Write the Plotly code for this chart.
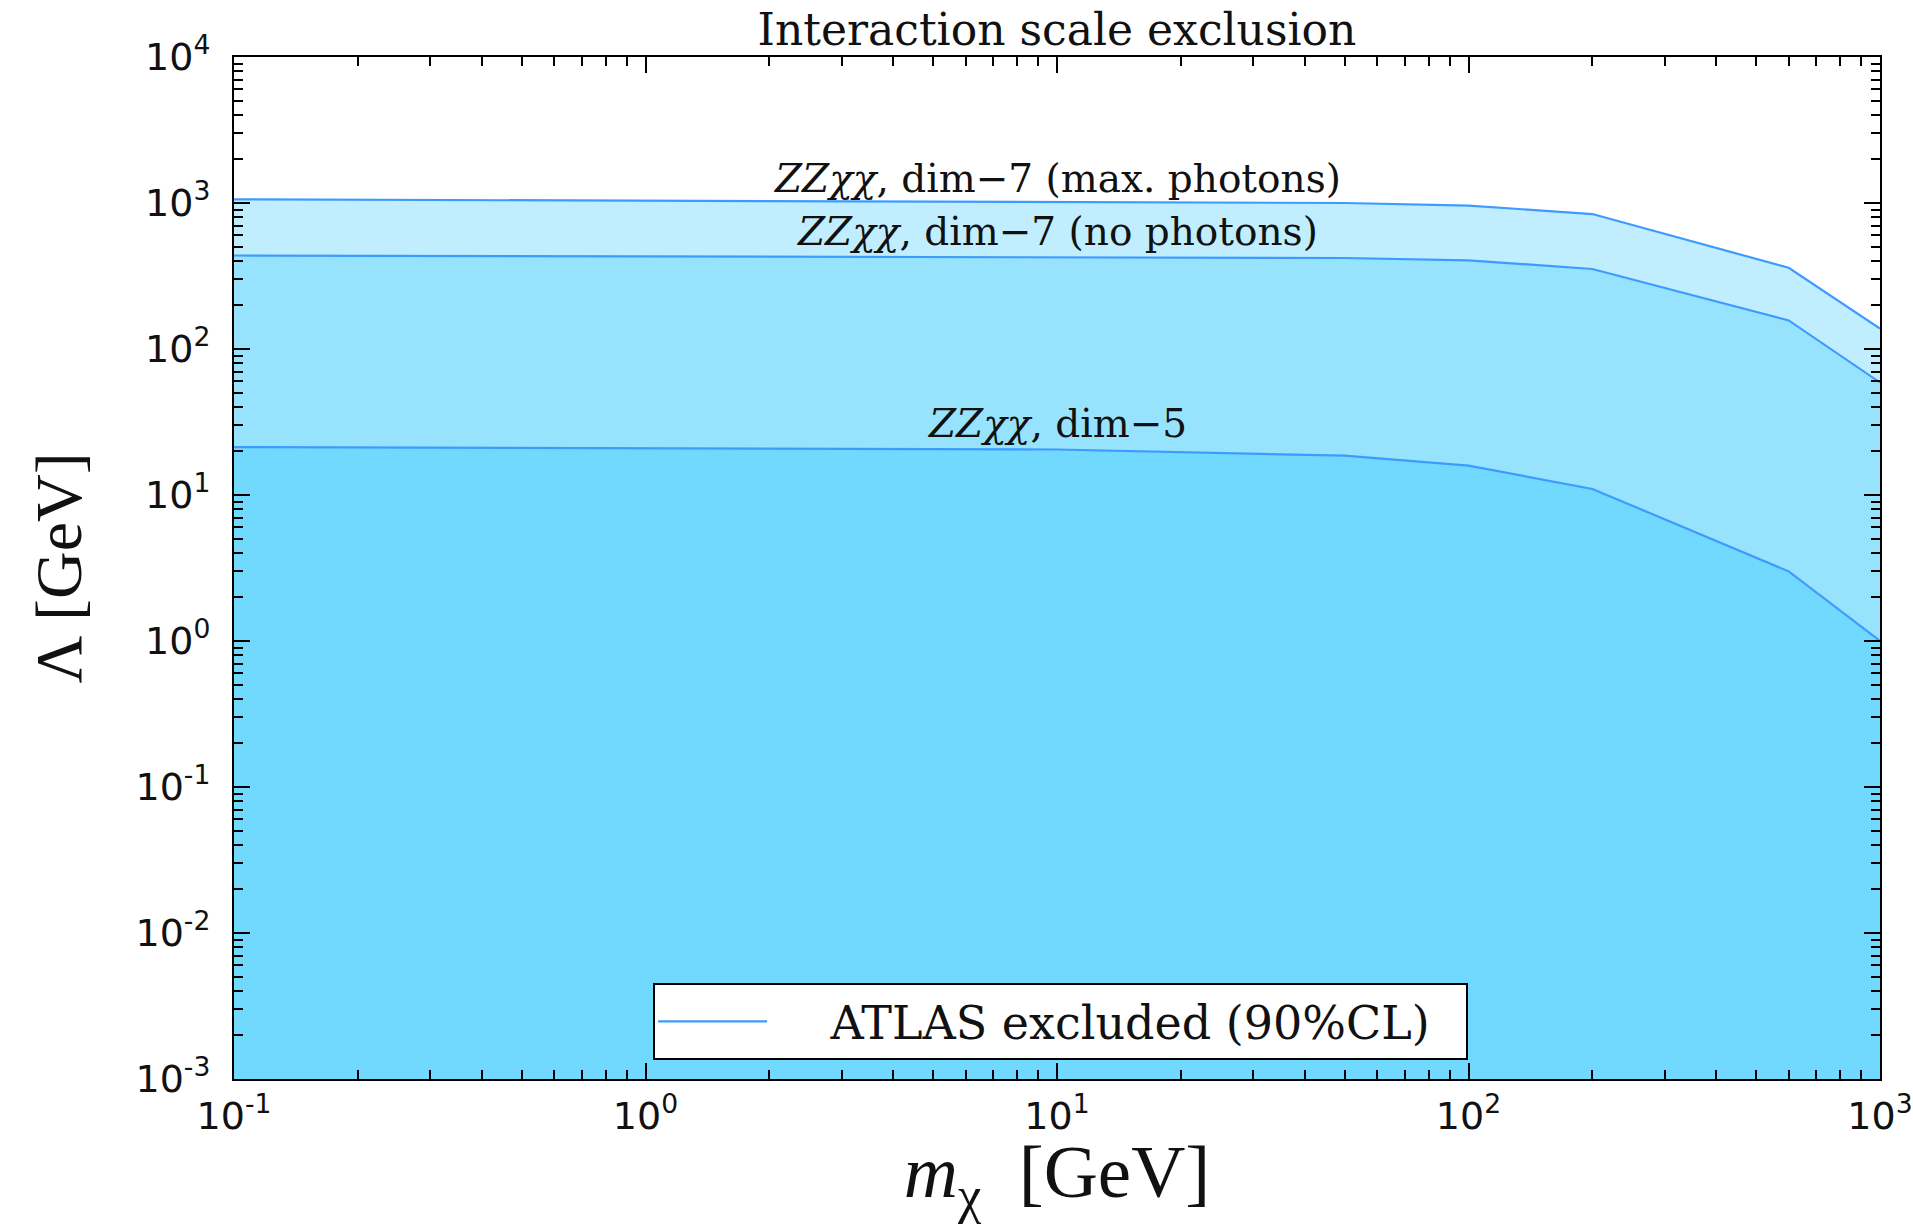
import numpy as np
import plotly.graph_objects as go

# ---------------- data ----------------
m_chi = [0.1, 1, 10, 50, 100, 200, 600, 1000]
lam_dim7_maxph = [1060, 1040, 1020, 1000, 960, 840, 360, 138]
lam_dim7_noph = [437, 430, 428, 420, 405, 353, 157, 59]
lam_dim5 = [21.3, 21.0, 20.5, 18.6, 15.9, 11.0, 3.0, 1.0]

labels = ["<i>ZZχχ</i>, dim−7 (max. photons)",
          "<i>ZZχχ</i>, dim−7 (no photons)",
          "<i>ZZχχ</i>, dim−5"]
label_x = [10, 10, 10]
label_y = [1480, 640, 31]
legend_name = "\u00a0" * 4 + "ATLAS excluded (90%CL)"

y_decades = [-3, -2, -1, 0, 1, 2, 3, 4]
x_decades = [-1, 0, 1, 2, 3]

fill_colors = ["#c1eefe", "#97e3fd", "#72d9fe"]
line_color = "#3d9bff"
serif = "DejaVu Serif, Liberation Serif, serif"
serif2 = "Liberation Serif, DejaVu Serif, serif"
sans = "DejaVu Sans, Liberation Sans, sans-serif"

fig = go.Figure()
series = [lam_dim7_maxph, lam_dim7_noph, lam_dim5]
for ys, fc in zip(series, fill_colors):
    fig.add_trace(go.Scatter(x=m_chi, y=ys, mode="lines", fill="tozeroy",
                             fillcolor=fc, line=dict(width=0, color=fc),
                             showlegend=False, hoverinfo="skip"))
for i, ys in enumerate(series):
    fig.add_trace(go.Scatter(x=m_chi, y=ys, mode="lines",
                             line=dict(color=line_color, width=2.2),
                             name=legend_name,
                             legendgroup="atlas", showlegend=(i == 0)))

for t, lx, ly in zip(labels, label_x, label_y):
    fig.add_annotation(x=np.log10(lx), y=np.log10(ly), text=t, showarrow=False,
                       font=dict(family=serif, size=39, color="#111"))

def minor_vals(decs):
    out = []
    for d in decs[:-1]:
        for k in range(2, 10):
            out.append(k * 10.0 ** d)
    return out

axis_common = dict(type="log", showline=True, linecolor="black", linewidth=2,
                   mirror="ticks", ticks="inside", ticklen=16, tickwidth=2,
                   tickcolor="black", showgrid=False, zeroline=False,
                   automargin=False,
                   tickfont=dict(family=sans, size=38, color="#111"))

fig.update_xaxes(**axis_common,
                 range=[-1, 3],
                 ticklabelstandoff=2,
                 tickvals=[10.0 ** d for d in x_decades],
                 ticktext=[f"10<sup>{d}</sup>" for d in x_decades],
                 minor=dict(tickvals=minor_vals(x_decades), ticks="inside",
                            ticklen=9, tickwidth=1.5, tickcolor="black"),
                 title=dict(text="<i>m</i><sub>χ</sub>  [GeV]",
                            font=dict(family=serif2, size=75, color="#111"),
                            standoff=11))
fig.update_yaxes(**axis_common,
                 range=[-3, 4],
                 ticklabelstandoff=14,
                 tickvals=[10.0 ** d for d in y_decades],
                 ticktext=[f"10<sup>{d}</sup>" for d in y_decades],
                 minor=dict(tickvals=minor_vals(y_decades), ticks="inside",
                            ticklen=9, tickwidth=1.5, tickcolor="black"),
                 title=dict(text="Λ [GeV]",
                            font=dict(family=serif2, size=66, color="#111"),
                            standoff=32))

fig.update_layout(
    width=1913, height=1224,
    margin=dict(l=234, r=33, t=57, b=145),
    paper_bgcolor="white", plot_bgcolor="white",
    title=dict(text="Interaction scale exclusion", x=0.5, xanchor="center",
               xref="paper", y=1 - 30 / 1224, yanchor="middle",
               font=dict(family=serif, size=44, color="#111")),
    legend=dict(x=0.2546, y=0.094, xanchor="left", yanchor="top",
                bgcolor="white", bordercolor="black", borderwidth=2,
                orientation="h", entrywidth=689, itemwidth=109,
                font=dict(family=serif, size=46, color="#111")),
)

fig.write_html("out.html", config={"displayModeBar": False},
               post_script="document.body.style.margin='0px';"
                           "document.body.style.overflow='hidden';")
